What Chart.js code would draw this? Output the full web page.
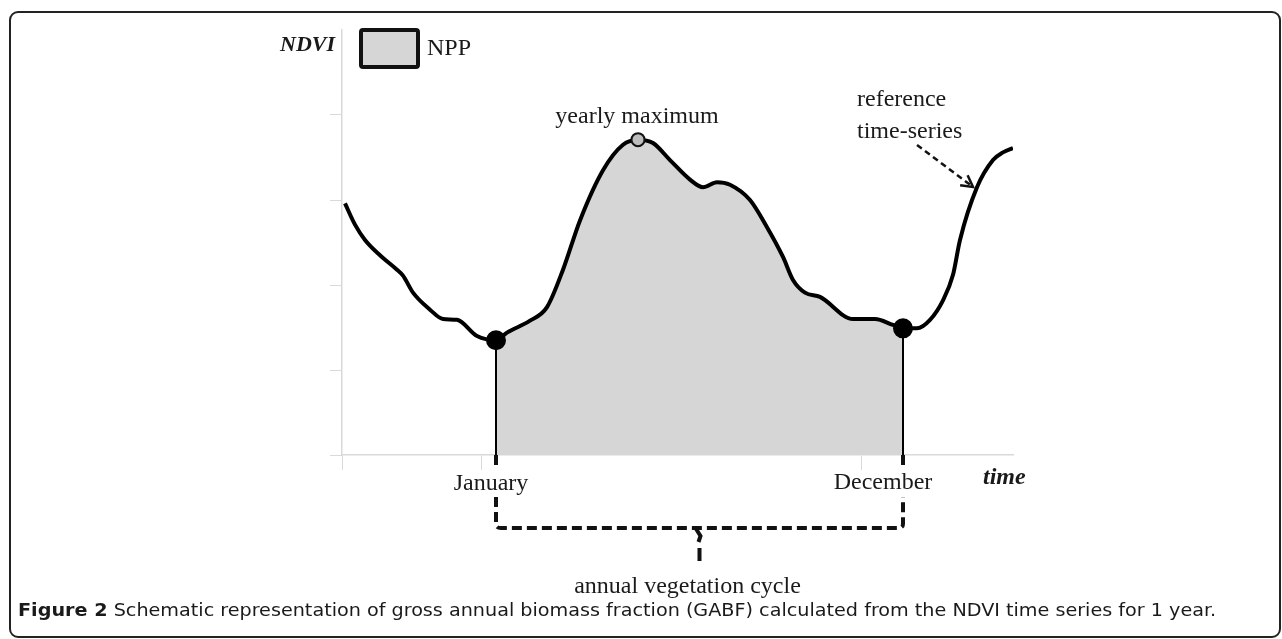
<!DOCTYPE html>
<html>
<head>
<meta charset="utf-8">
<script src="https://cdn.jsdelivr.net/npm/chart.js@4.4.1/dist/chart.umd.min.js"></script>
<style>
  html, body { margin: 0; padding: 0; background: #fff; overflow: hidden; }
  #marco { position: absolute; left: 9px; top: 11px; width: 1268px; height: 623px;
           border: 2px solid #222; border-radius: 9px; }
  #grafico { position: absolute; left: 0; top: 0; }
  #pie { position: absolute; left: 18px; top: 600px; white-space: nowrap; color: #1a1a1a;
         font: 17px 'DejaVu Sans Condensed', 'DejaVu Sans', sans-serif; transform-origin: 0 50%; }
</style>
</head>
<body>
<div id="marco"></div>
<canvas id="grafico" width="1282" height="639"></canvas>
<div id="pie"><b>Figure 2</b> Schematic representation of gross annual biomass fraction (GABF) calculated from the NDVI time series for 1 year.</div>
<script>
// Datos (tiempo en unidades arbitrarias, NDVI en unidades arbitrarias)
const tiempo = [0.3, 1.3, 2.3, 3.8, 5.5, 6.1, 7.1, 8.8, 10.1, 11.5, 13.5, 15.4, 16.5, 18.8, 20.5, 22.1,
  23.8, 26.1, 28.1, 29.6, 31.1, 32.8, 34.8, 36.1, 37.5, 38.8, 40.8, 42.5, 44.1, 45.1, 46.3, 47.8,
  51.1, 53.3, 55.1, 56.1, 57.5, 58.8, 60.1, 61.1, 61.8, 63.5, 65.1, 66.1, 67.1];
const ndvi = [2.96, 2.71, 2.53, 2.35, 2.18, 2.11, 1.91, 1.71, 1.60, 1.59, 1.40, 1.35, 1.44, 1.58, 1.74, 2.18,
  2.76, 3.35, 3.65, 3.71, 3.67, 3.47, 3.24, 3.15, 3.21, 3.18, 3.00, 2.68, 2.33, 2.06, 1.91, 1.86,
  1.60, 1.60, 1.53, 1.49, 1.49, 1.59, 1.82, 2.12, 2.53, 3.15, 3.47, 3.56, 3.61];
const inicioCiclo = 15.4;   // January
const finCiclo = 56.1;      // December
const maximoAnual = 29.6;   // yearly maximum
const ticksX = [0, 13.9, 51.9];
const ticksY = [0, 1, 2, 3, 4];

const puntos = tiempo.map((t, i) => ({ x: t, y: ndvi[i] }));
const ciclo = puntos.filter(p => p.x >= inicioCiclo && p.x <= finCiclo);
const valorEn = t => ndvi[tiempo.indexOf(t)];

const serif = "'Liberation Serif', 'Times New Roman', serif";

// Textos, llave y flecha dibujados sobre las escalas
const anotaciones = {
  id: 'anotaciones',
  afterDraw(chart) {
    const ctx = chart.ctx;
    const xs = chart.scales.x, ys = chart.scales.y;
    const px = v => xs.getPixelForValue(v), py = v => ys.getPixelForValue(v);
    const area = chart.chartArea;
    ctx.save();
    ctx.fillStyle = '#1a1a1a';
    ctx.textBaseline = 'middle';

    // etiqueta eje Y
    ctx.font = 'bold italic 22px ' + serif;
    ctx.textAlign = 'right';
    ctx.fillText('NDVI', area.left - 7, 45);

    // leyenda NPP
    ctx.fillStyle = '#d6d6d6';
    ctx.strokeStyle = '#111';
    ctx.lineWidth = 4;
    ctx.beginPath();
    ctx.roundRect(area.left + 19, 30, 57, 37, 2);
    ctx.fill();
    ctx.stroke();
    ctx.fillStyle = '#1a1a1a';
    ctx.font = '24px ' + serif;
    ctx.textAlign = 'left';
    ctx.fillText(chart.data.datasets[1].label, area.left + 85, 49);

    // etiquetas
    ctx.textAlign = 'center';
    ctx.fillText('yearly maximum', px(maximoAnual) - 1, py(valorEn(maximoAnual)) - 23);
    ctx.fillText('January', px(inicioCiclo) - 5, area.bottom + 29);
    ctx.fillText('December', px(finCiclo) - 20, area.bottom + 28);
    ctx.fillText('annual vegetation cycle', (px(inicioCiclo) + px(finCiclo)) / 2 - 12, area.bottom + 132);
    ctx.textAlign = 'left';
    ctx.fillText('reference', 857, 100);
    ctx.fillText('time-series', 857, 132);
    ctx.font = 'bold italic 24px ' + serif;
    ctx.fillText('time', area.right - 30, area.bottom + 23);

    // flecha discontinua
    const a = { x: 917, y: 145 }, b = { x: 973, y: 187 };
    ctx.strokeStyle = '#111';
    ctx.lineWidth = 2.5;
    ctx.setLineDash([6, 4]);
    ctx.beginPath();
    ctx.moveTo(a.x, a.y);
    ctx.lineTo(b.x, b.y);
    ctx.stroke();
    ctx.setLineDash([]);
    const ang = Math.atan2(b.y - a.y, b.x - a.x);
    ctx.beginPath();
    ctx.moveTo(b.x - 13 * Math.cos(ang - 0.5), b.y - 13 * Math.sin(ang - 0.5));
    ctx.lineTo(b.x, b.y);
    ctx.lineTo(b.x - 13 * Math.cos(ang + 0.5), b.y - 13 * Math.sin(ang + 0.5));
    ctx.stroke();

    // llave del ciclo anual
    const x1 = px(inicioCiclo), x2 = px(finCiclo), yb = area.bottom + 73, xm = (x1 + x2) / 2;
    ctx.lineWidth = 4;
    ctx.beginPath();
    ctx.moveTo(x1, area.bottom);
    ctx.lineTo(x1, area.bottom + 10);
    ctx.moveTo(x2, area.bottom);
    ctx.lineTo(x2, area.bottom + 10);
    ctx.stroke();
    ctx.setLineDash([10, 5]);
    ctx.beginPath();
    ctx.moveTo(x1, area.bottom + 42);
    ctx.lineTo(x1, yb - 4);
    ctx.quadraticCurveTo(x1, yb, x1 + 5, yb);
    ctx.lineTo(x2 - 5, yb);
    ctx.quadraticCurveTo(x2, yb, x2, yb - 4);
    ctx.lineTo(x2, area.bottom + 42);
    ctx.stroke();
    ctx.setLineDash([]);
    ctx.beginPath();
    ctx.moveTo(xm - 4, yb);
    ctx.lineTo(xm + 1, yb + 8);
    ctx.lineTo(xm - 1, yb + 14);
    ctx.moveTo(xm, yb + 20);
    ctx.lineTo(xm, yb + 33);
    ctx.stroke();
    ctx.restore();
  }
};

new Chart(document.getElementById('grafico'), {
  type: 'line',
  data: {
    datasets: [
      {
        label: 'reference time-series',
        data: puntos,
        borderColor: '#000',
        borderWidth: 4,
        pointRadius: 0,
        cubicInterpolationMode: 'monotone',
        fill: false,
        order: 2
      },
      {
        label: 'NPP',
        data: ciclo,
        borderColor: '#222',
        borderWidth: 1,
        backgroundColor: '#d6d6d6',
        pointRadius: 0,
        cubicInterpolationMode: 'monotone',
        fill: 'origin',
        order: 3
      },
      {
        label: 'January',
        data: [{ x: inicioCiclo, y: valorEn(inicioCiclo) }, { x: inicioCiclo, y: 0 }],
        borderColor: '#000',
        borderWidth: 2,
        pointRadius: [9, 0],
        pointBackgroundColor: '#000',
        order: 1
      },
      {
        label: 'December',
        data: [{ x: finCiclo, y: valorEn(finCiclo) }, { x: finCiclo, y: 0 }],
        borderColor: '#000',
        borderWidth: 2,
        pointRadius: [9, 0],
        pointBackgroundColor: '#000',
        order: 1
      },
      {
        label: 'yearly maximum',
        data: [{ x: maximoAnual, y: valorEn(maximoAnual) }],
        showLine: false,
        pointRadius: 6.5,
        pointBackgroundColor: '#bdbdbd',
        pointBorderColor: '#111',
        pointBorderWidth: 2,
        order: 0
      }
    ]
  },
  options: {
    responsive: false,
    animation: false,
    layout: { padding: { left: 330, right: 269, top: 30, bottom: 169 } },
    scales: {
      x: {
        type: 'linear',
        min: 0,
        max: 67.1,
        afterFit: s => { s.height = 15; },
        afterBuildTicks: s => { s.ticks = ticksX.map(v => ({ value: v })); },
        ticks: { display: false },
        grid: { drawOnChartArea: false, drawTicks: true, tickLength: 15, color: '#d9d9d9' },
        border: { color: '#d9d9d9', width: 1.5 }
      },
      y: {
        min: 0,
        max: 5,
        afterFit: s => { s.width = 12; },
        afterBuildTicks: s => { s.ticks = ticksY.map(v => ({ value: v })); },
        ticks: { display: false },
        grid: { drawOnChartArea: false, drawTicks: true, tickLength: 12, color: '#d9d9d9' },
        border: { color: '#d9d9d9', width: 1.5 }
      }
    },
    plugins: {
      legend: { display: false },
      tooltip: { enabled: false }
    }
  },
  plugins: [anotaciones]
});

// Ajustar el ancho del pie de figura
const pie = document.getElementById('pie');
const ancho = pie.getBoundingClientRect().width;
pie.style.transform = 'scaleX(' + (1198 / ancho) + ')';
</script>
</body>
</html>
